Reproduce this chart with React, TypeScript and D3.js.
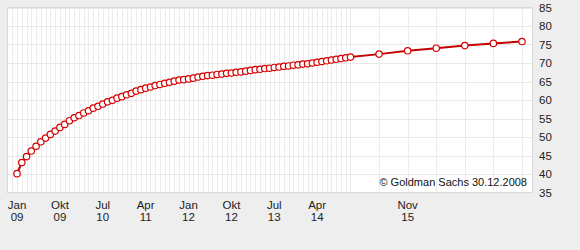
import React from "react";
import * as d3 from "d3";

// month index 0 = Jan 2009
const monthlyValues: number[] = [
  40.1, 43.1, 44.7, 46.2, 47.5, 48.7, 49.7, 50.7, 51.6, 52.6, 53.4, 54.4,
  55.2, 55.8, 56.5, 57.1, 57.8, 58.3, 58.9, 59.5, 59.9, 60.5, 60.9, 61.4,
  61.8, 62.4, 62.8, 63.2, 63.5, 63.9, 64.2, 64.5, 64.8, 65.1, 65.4, 65.5,
  65.7, 65.9, 66.2, 66.4, 66.6, 66.7, 66.9, 67.0, 67.2, 67.3, 67.5, 67.6,
  67.8, 68.0, 68.2, 68.3, 68.5, 68.6, 68.8, 68.9, 69.1, 69.2, 69.4, 69.5,
  69.7, 69.8, 70.0, 70.2, 70.4, 70.6, 70.8, 71.0, 71.2, 71.4, 71.6,
];
const semiAnnualMonths: number[] = [76, 82, 88, 94, 100, 106];
const semiAnnualValues: number[] = [72.4, 73.3, 74.0, 74.7, 75.3, 75.8];

const tickMonths: number[] = [0, 9, 18, 27, 36, 45, 54, 63, 82];
const tickLabels: [string, string][] = [
  ["Jan", "09"], ["Okt", "09"], ["Jul", "10"], ["Apr", "11"], ["Jan", "12"],
  ["Okt", "12"], ["Jul", "13"], ["Apr", "14"], ["Nov", "15"],
];
const yTicks: number[] = [35, 40, 45, 50, 55, 60, 65, 70, 75, 80, 85];
const credit = "© Goldman Sachs 30.12.2008";

const W = 580, H = 250;
const left = 7.5, right = 532.5, top = 7.5, bottom = 192.5;
const font = "'Liberation Sans', Arial, sans-serif";

export default function App() {
  const data = [
    ...monthlyValues.map((v, i) => ({ m: i, v })),
    ...semiAnnualMonths.map((m, i) => ({ m, v: semiAnnualValues[i] })),
  ];
  const x = d3.scaleLinear().domain([-2, 108]).range([left, right - 1]);
  const y = d3.scaleLinear().domain([35, 85]).range([bottom, top]);
  const line = d3.line<{ m: number; v: number }>().x(d => x(d.m)).y(d => y(d.v));
  const gridMonths = [-1, ...data.map(d => d.m)];

  return (
    <svg width={W} height={H} style={{ position: "absolute", left: 0, top: 0 }}
      fontFamily={font}>
      <rect x={0} y={0} width={W} height={H} fill="#eeeeee" />
      <rect x={left} y={top} width={right - left} height={bottom - top} fill="#ffffff" />
      {gridMonths.map(m => (
        <line key={"gx" + m} x1={Math.round(x(m)) + 0.5} x2={Math.round(x(m)) + 0.5}
          y1={top} y2={bottom} stroke="#ececec" strokeWidth={1} />
      ))}
      {yTicks.map(t => (
        <line key={"gy" + t} x1={left} x2={right} y1={Math.round(y(t)) + 0.5}
          y2={Math.round(y(t)) + 0.5} stroke="#e8e8e8" strokeWidth={1} />
      ))}
      <rect x={left} y={top} width={right - left} height={bottom - top} fill="none"
        stroke="#d9d9d9" strokeWidth={1} />
      <text x={527} y={186} fontSize={11} textAnchor="end" fill="#111">{credit}</text>
      <path d={line(data) || ""} fill="none" stroke="#c40000" strokeWidth={2} />
      {data.map(d => (
        <circle key={"p" + d.m} cx={x(d.m)} cy={y(d.v)} r={3.2} fill="#ffffff"
          stroke="#d40000" strokeWidth={1.2} />
      ))}
      {yTicks.map(t => (
        <text key={"yl" + t} x={539} y={y(t) + 4} fontSize={11.5} fill="#222">{t}</text>
      ))}
      {tickMonths.map((m, i) => (
        <g key={"xl" + m}>
          <text x={x(m)} y={209} fontSize={11.5} textAnchor="middle" fill="#222">{tickLabels[i][0]}</text>
          <text x={x(m)} y={221} fontSize={11.5} textAnchor="middle" fill="#222">{tickLabels[i][1]}</text>
        </g>
      ))}
    </svg>
  );
}
